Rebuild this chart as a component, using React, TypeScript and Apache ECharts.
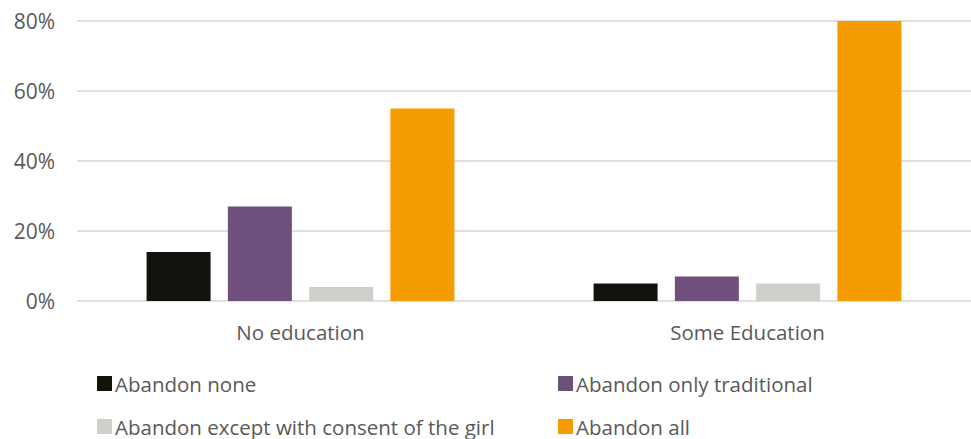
import React, { useEffect, useRef } from "react";
import * as echarts from "echarts";

const categories = ["No education", "Some Education"];
const seriesNames = [
  "Abandon none",
  "Abandon only traditional",
  "Abandon except with consent of the girl",
  "Abandon all",
];
const abandonNone = [14, 5];
const abandonOnlyTraditional = [27, 7];
const abandonExceptConsent = [4, 5];
const abandonAll = [55, 80];
const yTicks = [0, 20, 40, 60, 80];

const colors = ["#13120c", "#6f4f7c", "#d0cfca", "#f59c00"];
const FONT = "Open Sans";

export default function App() {
  const ref = useRef<HTMLDivElement>(null);
  useEffect(() => {
    if (!ref.current) return;
    const chart = echarts.init(ref.current, null, { renderer: "svg" });
    const values = [abandonNone, abandonOnlyTraditional, abandonExceptConsent, abandonAll];
    const legendPos = [
      { left: 92, top: 368 },
      { left: 553, top: 368 },
      { left: 92, top: 411 },
      { left: 553, top: 411 },
    ];
    chart.setOption({
      animation: false,
      color: colors,
      grid: { left: 77, right: -4, top: 21, bottom: 138, containLabel: false },
      legend: seriesNames.map((n, i) => ({
        data: [n],
        left: legendPos[i].left,
        top: legendPos[i].top,
        padding: 5,
        itemWidth: 15,
        itemHeight: 15,
        itemGap: 0,
        icon: "rect",
        textStyle: {
          fontFamily: FONT,
          fontSize: 20.5,
          lineHeight: 20,
          color: "#595959",
          padding: [0, 0, 0, -2],
        },
      })),
      xAxis: {
        type: "category",
        data: categories,
        axisLine: { show: false },
        axisTick: { show: false },
        axisLabel: { fontFamily: FONT, fontSize: 20.5, color: "#595959", margin: 20 },
      },
      yAxis: {
        type: "value",
        min: 0,
        max: yTicks[yTicks.length - 1],
        interval: 20,
        axisLabel: {
          fontFamily: FONT,
          fontSize: 21,
          color: "#595959",
          margin: 22,
          formatter: (v: number) => `${v}%`,
        },
        splitLine: { lineStyle: { color: "#e0e0e0", width: 2 } },
        axisLine: { show: false },
        axisTick: { show: false },
      },
      series: seriesNames.map((n, i) => ({
        name: n,
        type: "bar",
        data: values[i],
        barWidth: 64,
        barGap: "27%",
        itemStyle: { color: colors[i] },
      })),
    });
    return () => chart.dispose();
  }, []);
  return (
    <div
      ref={ref}
      style={{ position: "absolute", left: 0, top: 0, width: 971, height: 439 }}
    />
  );
}
